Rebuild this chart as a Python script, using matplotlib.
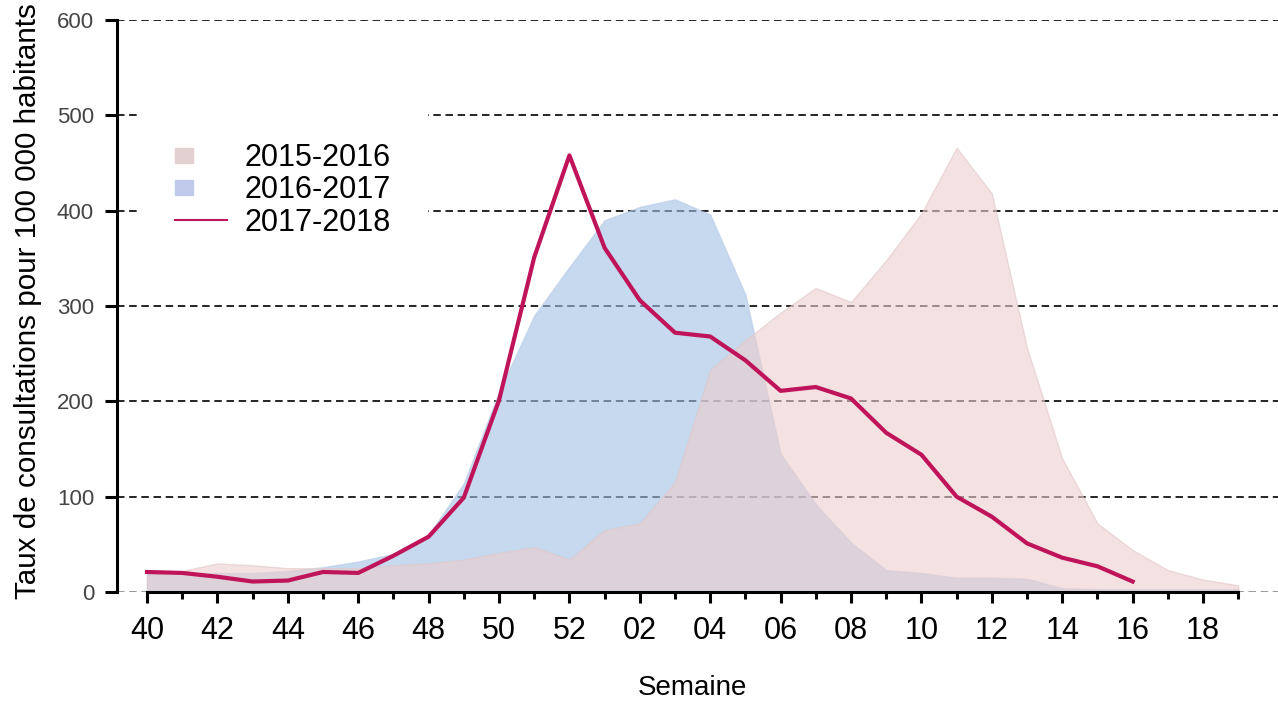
import numpy as np
import matplotlib.pyplot as plt
from matplotlib.lines import Line2D
from matplotlib.patches import Patch, Rectangle
from matplotlib.legend_handler import HandlerPatch

plt.rcParams['font.family'] = ['Liberation Sans', 'DejaVu Sans']

# semaines 40 -> 19 (pas de semaine 53)
semaines = [40, 41, 42, 43, 44, 45, 46, 47, 48, 49, 50, 51, 52,
            1, 2, 3, 4, 5, 6, 7, 8, 9, 10, 11, 12, 13, 14, 15, 16, 17, 18, 19]

s2015 = [18, 22, 30, 28, 25, 25, 25, 28, 30, 34, 41, 47, 34,
         65, 72, 115, 233, 264, 293, 319, 304, 348, 397, 466, 418, 256, 140, 72, 44, 23, 13, 7]
s2016 = [20, 20, 20, 20, 22, 26, 32, 40, 60, 114, 210, 290, 341,
         390, 404, 412, 396, 312, 145, 92, 52, 23, 20, 15, 15, 14, 4, 3, 3, 3, 3, 3]
s2017 = [21, 20, 16, 11, 12, 21, 20, 38, 58, 99, 201, 351, 458,
         361, 306, 272, 268, 243, 211, 215, 203, 167, 144, 100, 79, 51, 36, 27, 11]

labels = ['2015-2016', '2016-2017', '2017-2018']
yticks = [0, 100, 200, 300, 400, 500, 600]

x = np.arange(len(semaines))
x17 = np.arange(len(s2017))

fig = plt.figure(figsize=(12.78, 7.02), dpi=100)
ax = fig.add_axes([117 / 1278, 110 / 702, 1161 / 1278, 572 / 702])

for v in yticks:
    ax.axhline(v, color='black' if v else '#888888', lw=1.2, ls=(0, (4.5, 2.8)), zorder=0)

ax.fill_between(x, s2016, color='#a0c0e4', alpha=0.6, lw=1, edgecolor='#b8cbe6', zorder=1)
ax.fill_between(x, s2015, color='#edcdcd', alpha=0.6, lw=1, edgecolor='#e2c8ca', zorder=2)
ax.plot(x17, s2017, color='#c0145a', lw=3, zorder=3, solid_joinstyle='round')

ax.set_xlim(-0.852, 32.13)
ax.set_ylim(0, 600)

for side in ['top', 'right']:
    ax.spines[side].set_visible(False)
ax.spines['left'].set_linewidth(2.2)
ax.spines['bottom'].set_linewidth(2.2)
ax.spines['left'].set_bounds(0, 600)
ax.spines['bottom'].set_bounds(0, len(semaines) - 1)

ax.set_yticks(yticks)
ax.tick_params(axis='y', direction='out', length=8.5, width=2.2, pad=8,
               labelsize=16, labelcolor='#444444')

ax.set_xticks(x[::2])
ax.set_xticklabels(['%02d' % s for s in semaines[::2]])
ax.set_xticks(x[1::2], minor=True)
ax.tick_params(axis='x', which='major', direction='out', length=8, width=2.2, pad=9, labelsize=22)
ax.tick_params(axis='x', which='minor', direction='out', length=5, width=2.2)

ax.set_ylabel('Taux de consultations pour 100 000 habitants', fontsize=21.3)
ax.yaxis.set_label_coords(-0.065, 0.509)
fig.text(692 / 1278, 1 / 702, 'Semaine', ha='center', va='bottom', fontsize=20)


def petit_carre(legend, orig_handle, xdescent, ydescent, width, height, fontsize):
    return Rectangle((-xdescent, -ydescent + 2), 13, 11)


handles = [Patch(color='#e3d0d0'), Patch(color='#c0cbec'),
           Line2D([], [], color='#c0145a', lw=1.5)]
leg = ax.legend(handles, labels, loc='upper left', bbox_to_anchor=(138 / 1278, 1 - 106 / 702),
                bbox_transform=fig.transFigure, fontsize=22, frameon=True, fancybox=False,
                framealpha=1, edgecolor='none', handlelength=1.7, handletextpad=0.6,
                labelspacing=0.08, borderpad=1.2, borderaxespad=0,
                handler_map={Patch: HandlerPatch(patch_func=petit_carre)})
leg.set_zorder(5)

fig.savefig('out.png', dpi=100)
